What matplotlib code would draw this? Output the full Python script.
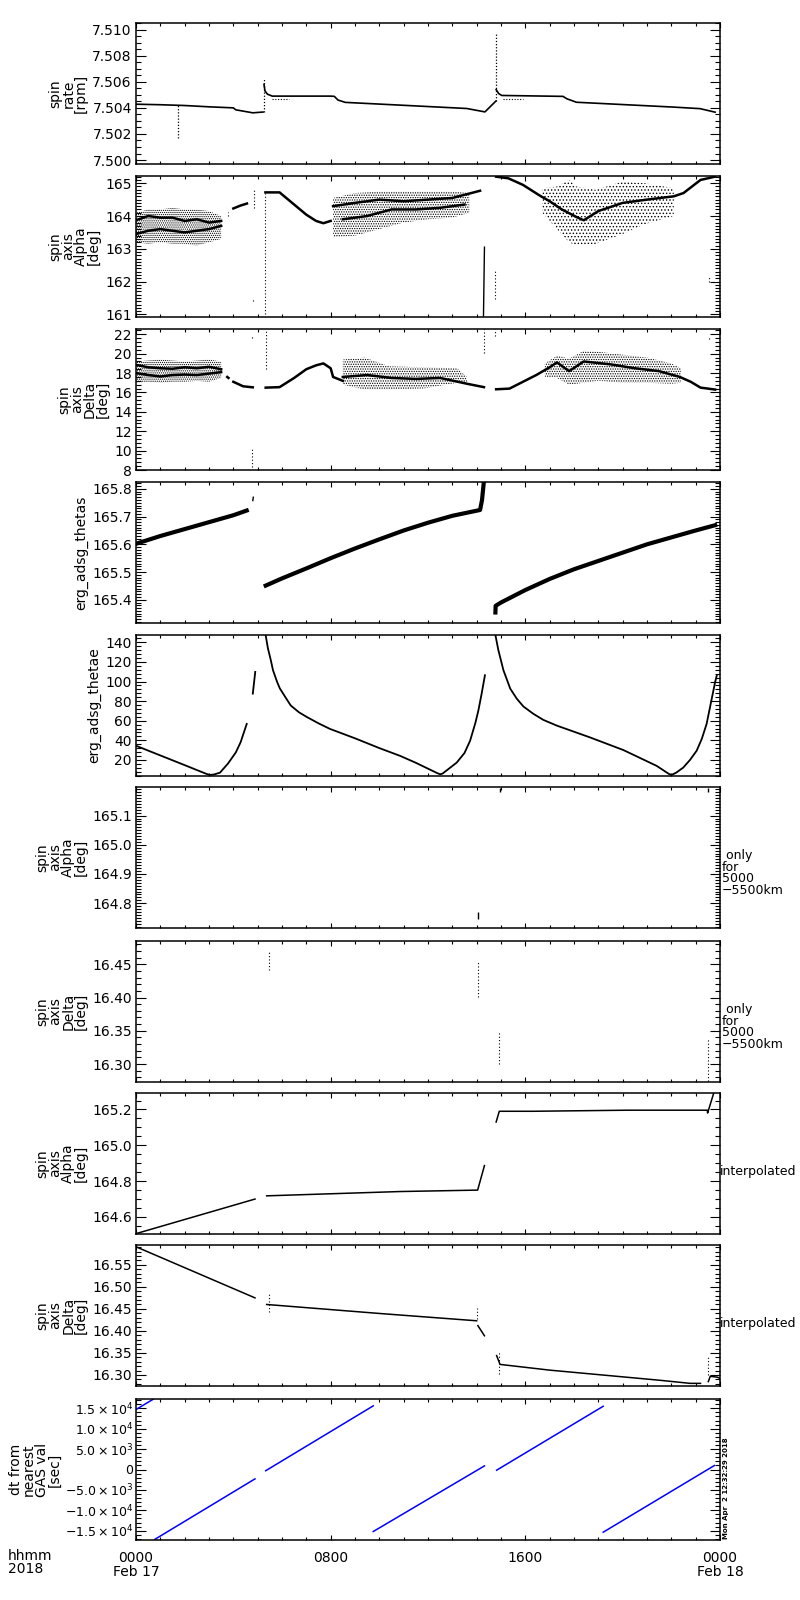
import numpy as np
import matplotlib
matplotlib.use('Agg')
import matplotlib.pyplot as plt
from matplotlib.ticker import MultipleLocator, FixedLocator, FixedFormatter, FormatStrFormatter

nan = np.nan

# ---- panel 1: spin rate [rpm] ----
rate_t = [0, 1, 2, 3, 4, 4.1, 4.8, 5.22, nan, 5.26, 5.3, 5.4, 5.6, 8.0, 8.15, 8.3, 8.6,
          10.85, 13.6, 14.34, 14.79, nan, 14.8, 14.9, 15.03, 17.55, 17.7, 18.1,
          22.08, 23.18, 23.8]
rate_v = [7.50428, 7.50424, 7.50418, 7.50408, 7.50400, 7.50385, 7.50362, 7.50368, nan,
          7.50580, 7.50530, 7.50505, 7.50490, 7.50490, 7.50488, 7.50460, 7.50442,
          7.50421, 7.50395, 7.50369, 7.50452, nan, 7.50540, 7.50510, 7.50495,
          7.50488, 7.50470, 7.50443, 7.50406, 7.50394, 7.50367]
rate_low_t = [5.6, 6.3, nan, 15.1, 15.9]
rate_low_v = [7.50466, 7.50466, nan, 7.50466, 7.50466]
rate_spike_t = [1.71, 5.24, 14.79]
rate_spike_lo = [7.50167, 7.50368, 7.50452]
rate_spike_hi = [7.50420, 7.50621, 7.50975]

# ---- panel 2: spin axis alpha ----
alpha_band1_t = [0, 0.5, 1, 1.5, 2, 2.5, 3, 3.5]
alpha_band1_hi = [164.1, 164.2, 164.2, 164.25, 164.2, 164.2, 164.15, 164.0]
alpha_band1_lo = [163.2, 163.15, 163.2, 163.15, 163.15, 163.1, 163.2, 163.3]
alpha_band2_t = [8.1, 9, 10, 11, 12, 13, 13.7]
alpha_band2_hi = [164.55, 164.7, 164.75, 164.75, 164.75, 164.75, 164.7]
alpha_band2_lo = [163.35, 163.4, 163.6, 163.8, 163.9, 163.95, 164.1]
alpha_band3_t = [16.7, 17.3, 17.8, 18.1, 18.9, 20.0, 20.9, 22.1]
alpha_band3_hi = [164.85, 164.9, 165.1, 164.9, 164.8, 165.05, 165.0, 164.85]
alpha_band3_lo = [164.1, 163.6, 163.2, 163.1, 163.15, 163.45, 163.75, 164.0]
alpha_core_t = [0, 0.5, 1, 1.5, 2, 2.5, 3, 3.5, nan,
                0, 0.5, 1, 1.5, 2, 2.5, 3, 3.5, nan,
                4.0, 4.3, 4.56, nan,
                5.32, 5.9, 6.45, 7.0, 7.4, 7.7, 8.0, nan,
                8.1, 9, 10, 11, 12, 13, 14.14, nan,
                8.5, 9.5, 10.5, 11.5, 12.5, 13.5, nan,
                14.8, 15.3, 15.9, 16.6, 17.0, 17.5, 18.1, 18.4, 19.0, 20.0, 21.0, 22.1,
                22.5, 23.2, 23.8]
alpha_core_v = [163.87, 164.0, 163.95, 163.95, 163.85, 163.9, 163.8, 163.85, nan,
                163.45, 163.55, 163.6, 163.55, 163.5, 163.55, 163.6, 163.7, nan,
                164.23, 164.32, 164.38, nan,
                164.72, 164.72, 164.38, 164.04, 163.85, 163.78, 163.85, nan,
                164.3, 164.4, 164.5, 164.45, 164.5, 164.55, 164.77, nan,
                163.9, 164.0, 164.2, 164.2, 164.25, 164.35, nan,
                165.2, 165.15, 164.95, 164.62, 164.45, 164.2, 163.97, 163.87, 164.15,
                164.4, 164.5, 164.6, 164.7, 165.1, 165.2]
alpha_spike_t = [3.77, 4.85, 5.32, 4.8, 14.77, 23.55]
alpha_spike_lo = [164.0, 164.23, 161.0, 161.4, 161.47, 162.0]
alpha_spike_hi = [164.12, 164.85, 164.7, 161.5, 162.33, 162.15]
alpha_drop_t = [14.28, 14.32]
alpha_drop_v = [160.95, 163.05]

# ---- panel 3: spin axis delta ----
delta_band1_t = [0, 0.5, 1, 1.5, 2, 2.5, 3, 3.5]
delta_band1_hi = [19.2, 19.3, 19.4, 19.3, 19.2, 19.3, 19.4, 19.2]
delta_band1_lo = [17.0, 17.1, 17.0, 17.1, 17.1, 17.2, 17.1, 17.5]
delta_band2_t = [8.5, 9.4, 10.4, 11.8, 13.2, 13.6]
delta_band2_hi = [19.4, 19.6, 18.7, 18.6, 18.5, 17.6]
delta_band2_lo = [16.8, 16.3, 16.3, 16.4, 17.0, 17.0]
delta_band3_t = [16.8, 17.3, 17.8, 18.4, 19.0, 20, 21, 22, 22.4]
delta_band3_hi = [19.0, 19.8, 19.5, 20.3, 20.2, 19.9, 19.6, 19.0, 18.5]
delta_band3_lo = [17.6, 17.5, 16.8, 17.0, 17.2, 17.0, 17.0, 16.9, 17.0]
delta_core_t = [0, 0.5, 1, 1.5, 2, 2.5, 3, 3.5, nan,
                0, 0.5, 1, 1.5, 2, 2.5, 3, 3.5, nan,
                3.75, 3.8, nan,
                4.0, 4.4, 4.8, nan,
                5.33, 5.9, 6.5, 7.0, 7.4, 7.7, 8.0, 8.1, 8.5, nan,
                8.5, 9.5, 10.5, 11.5, 12.5, 13.6, 14.3, nan,
                14.8, 15.35, 15.9, 16.45, 17.0, 17.3, 17.8, 18.4, 19.5, 20.5, 21.5,
                22.35, 22.8, 23.2, 23.8]
delta_core_v = [18.85, 18.6, 18.5, 18.45, 18.6, 18.5, 18.65, 18.4, nan,
                18.0, 17.8, 17.65, 17.8, 17.85, 17.8, 17.95, 18.1, nan,
                17.6, 17.5, nan,
                17.1, 16.64, 16.53, nan,
                16.5, 16.55, 17.5, 18.4, 18.8, 19.0, 18.5, 17.6, 17.2, nan,
                17.6, 17.8, 17.5, 17.4, 17.5, 16.9, 16.55, nan,
                16.33, 16.4, 17.1, 17.8, 18.6, 19.1, 18.2, 19.2, 18.9, 18.5, 18.2,
                17.6, 17.1, 16.5, 16.3]
delta_spike_t = [4.78, 4.78, 5.33, 14.3, 14.77, 23.55]
delta_spike_lo = [21.6, 8.27, 18.47, 20.03, 21.8, 21.5]
delta_spike_hi = [21.9, 10.35, 22.3, 22.5, 22.5, 21.7]

# ---- panel 4: erg_adsg_thetas ----
thetas_t = [0, 1, 2, 3, 4, 4.55, nan,
            5.33, 6, 7, 8, 9, 10, 11, 12, 13, 14.14, 14.22, 14.3, nan,
            14.77, 14.78, 15, 16, 17, 18, 19, 20, 21, 22, 23, 23.8]
thetas_v = [165.602, 165.630, 165.655, 165.680, 165.705, 165.722, nan,
            165.451, 165.477, 165.513, 165.550, 165.585, 165.618, 165.650, 165.678,
            165.703, 165.724, 165.760, 165.830, nan,
            165.354, 165.378, 165.390, 165.435, 165.475, 165.510, 165.540, 165.570,
            165.600, 165.625, 165.650, 165.669]
thetas_dot_t = [4.8, 4.82]
thetas_dot_v = [165.758, 165.770]

# ---- panel 5: erg_adsg_thetae ----
thetae_t = [0, 1, 2, 2.9, 3.04, 3.2, 3.45, 3.78, 4.1, 4.3, 4.55, nan, 4.8, 4.9, nan,
            5.33, 5.42, 5.54, 5.63, 5.8, 5.91, 6.18, 6.36, 6.7, 7.04, 7.5, 7.97, 9, 10,
            10.85, 11.5, 12.4, 12.5, 12.6, 13.18, 13.5, 13.73, 13.95, 14.07, 14.2,
            14.34, nan,
            14.77, 14.89, 15.1, 15.38, 15.65, 15.92, 16.33, 16.74, 17.29, 18.66, 20.03,
            21.4, 21.9, 22.01, 22.2, 22.49, 22.77, 23.04, 23.25, 23.45, 23.59, 23.8,
            23.87]
thetae_v = [34.4, 24.5, 14.6, 5.6, 4.6, 5.0, 6.9, 16.2, 27.5, 38, 56.7, nan, 87.6, 109.8,
            nan,
            147, 134, 121.8, 111.5, 99.5, 93, 82.4, 75.5, 68.5, 63.5, 57.3, 51.6, 42, 32,
            24.1, 17, 6.2, 5.3, 6.0, 17.2, 27, 39.5, 58, 70.4, 87, 106.4, nan,
            147.5, 132.2, 111.5, 92.7, 82.4, 74.5, 67, 60.8, 55, 42.9, 30,
            13.8, 5.6, 4.6, 6.9, 12.1, 20, 29.3, 41.3, 56.7, 73.8, 99.5,
            106.4]

# ---- panel 6/7: only for 5000-5500km ----
alpha_r_t = [14.05, 14.96, 23.5]
alpha_r_lo = [164.745, 165.180, 165.180]
alpha_r_hi = [164.770, 165.195, 165.195]
delta_r_t = [5.48, 14.04, 14.93, 23.52]
delta_r_lo = [16.441, 16.401, 16.300, 16.275]
delta_r_hi = [16.469, 16.453, 16.350, 16.338]

# ---- panel 8/9: interpolated ----
alpha_i_t = [0, 4.89, nan, 5.37, 10.85, 14.04, 14.32, nan,
             14.8, 14.93, 16.3, 20.2, 23.48, 23.49, 23.75]
alpha_i_v = [164.507, 164.700, nan, 164.718, 164.742, 164.750, 164.887, nan,
             165.130, 165.190, 165.190, 165.196, 165.196, 165.180, 165.295]
delta_i_t = [0, 4.89, nan, 5.37, 10.03, 14.0, nan, 14.05, 14.32, nan,
             14.82, 14.96, 17.0, 21.53, 22.77, 23.2, nan, 23.52, 23.6, 23.9, 24]
delta_i_v = [16.591, 16.475, nan, 16.460, 16.4395, 16.423, nan, 16.412, 16.389, nan,
             16.344, 16.324, 16.311, 16.288, 16.281, 16.281, nan,
             16.285, 16.297, 16.295, 16.292]
delta_i_spike_t = [5.48, 14.02, 14.93, 23.52]
delta_i_spike_lo = [16.442, 16.427, 16.303, 16.300]
delta_i_spike_hi = [16.487, 16.453, 16.352, 16.340]

# ---- panel 10: dt from nearest GAS val [sec] ----
dt_t = [0, 0.7, nan, 0.78, 4.89, nan, 5.33, 9.75, nan, 9.75, 14.32, nan,
        14.82, 19.2, nan, 19.2, 23.77]
dt_v = [14700, 17200, nan, -17100, -2300, nan, -300, 15600, nan, -15200, 880, nan,
        -170, 15500, nan, -15370, 980]

tops = [23, 176, 329, 482, 635, 787, 941, 1093, 1245, 1399]
fig = plt.figure(figsize=(8, 16), dpi=100)
plt.rcParams['font.family'] = ['DejaVu Sans']
plt.rcParams['mathtext.fontset'] = 'dejavusans'
plt.rcParams['hatch.linewidth'] = 0.6

axes = []
for top in tops:
    ax = fig.add_axes([136 / 800, 1 - (top + 141) / 1600, 584 / 800, 141 / 1600])
    ax.set_xlim(0, 24)
    ax.xaxis.set_major_locator(MultipleLocator(8))
    ax.xaxis.set_minor_locator(MultipleLocator(1))
    ax.tick_params(which='both', direction='in', top=True, right=True,
                   labelsize=10, width=0.8, pad=3)
    ax.tick_params(axis='y', which='major', length=7)
    ax.tick_params(axis='y', which='minor', length=3.5)
    ax.tick_params(axis='x', which='major', length=3.8)
    ax.tick_params(axis='x', which='minor', length=2)
    ax.set_xticklabels([])
    for s in ax.spines.values():
        s.set_linewidth(1.1)
    axes.append(ax)


def yaxis(ax, lim, major, minor, fmt, label):
    ax.set_ylim(*lim)
    ax.yaxis.set_major_locator(MultipleLocator(major))
    ax.yaxis.set_minor_locator(MultipleLocator(minor))
    ax.yaxis.set_major_formatter(FormatStrFormatter(fmt))
    ax.set_ylabel(label, fontsize=10, linespacing=0.9, labelpad=3)


def band(ax, t, lo, hi, hatch):
    ax.fill_between(t, lo, hi, facecolor='none', edgecolor='k', hatch=hatch, linewidth=0)


# panel 1
ax = axes[0]
yaxis(ax, (7.4997, 7.5105), 0.002, 0.0005, '%.3f', 'spin\nrate\n[rpm]')
ax.plot(rate_t, rate_v, color='k', lw=1.2)
ax.plot(rate_low_t, rate_low_v, color='k', lw=0.8, ls=(0, (1, 1.5)))
ax.vlines(rate_spike_t, rate_spike_lo, rate_spike_hi, color='k', lw=0.9, ls=(0, (1, 1.5)))

# panel 2
ax = axes[1]
yaxis(ax, (160.92, 165.22), 1, 0.1, '%d', 'spin\naxis\nAlpha\n[deg]')
band(ax, alpha_band1_t, alpha_band1_lo, alpha_band1_hi, '........')
band(ax, alpha_band2_t, alpha_band2_lo, alpha_band2_hi, '.......')
band(ax, alpha_band3_t, alpha_band3_lo, alpha_band3_hi, '.....')
ax.plot(alpha_core_t, alpha_core_v, color='k', lw=1.8)
ax.vlines(alpha_spike_t, alpha_spike_lo, alpha_spike_hi, color='k', lw=0.8, ls=(0, (1, 2)))
ax.plot(alpha_drop_t, alpha_drop_v, color='k', lw=1)

# panel 3
ax = axes[2]
yaxis(ax, (8.0, 22.55), 2, 0.4, '%d', 'spin\naxis\nDelta\n[deg]')
band(ax, delta_band1_t, delta_band1_lo, delta_band1_hi, '........')
band(ax, delta_band2_t, delta_band2_lo, delta_band2_hi, '.......')
band(ax, delta_band3_t, delta_band3_lo, delta_band3_hi, '.......')
ax.plot(delta_core_t, delta_core_v, color='k', lw=1.8)
ax.vlines(delta_spike_t, delta_spike_lo, delta_spike_hi, color='k', lw=0.8, ls=(0, (1, 2)))

# panel 4
ax = axes[3]
yaxis(ax, (165.316, 165.825), 0.1, 0.01, '%.1f', 'erg_adsg_thetas')
ax.plot(thetas_t, thetas_v, color='k', lw=3)
ax.plot(thetas_dot_t, thetas_dot_v, color='k', lw=1)

# panel 5
ax = axes[4]
yaxis(ax, (3.5, 147.5), 20, 4, '%d', 'erg_adsg_thetae')
ax.plot(thetae_t, thetae_v, color='k', lw=1.3)

# panel 6
ax = axes[5]
yaxis(ax, (164.715, 165.198), 0.1, 0.01, '%.1f', 'spin\naxis\nAlpha\n[deg]')
ax.vlines(alpha_r_t, alpha_r_lo, alpha_r_hi, color='k', lw=1)

# panel 7
ax = axes[6]
yaxis(ax, (16.273, 16.485), 0.05, 0.01, '%.2f', 'spin\naxis\nDelta\n[deg]')
ax.vlines(delta_r_t, delta_r_lo, delta_r_hi, color='k', lw=0.8, ls=(0, (1, 2)))

# panel 8
ax = axes[7]
yaxis(ax, (164.505, 165.292), 0.2, 0.05, '%.1f', 'spin\naxis\nAlpha\n[deg]')
ax.plot(alpha_i_t, alpha_i_v, color='k', lw=1.1)

# panel 9
ax = axes[8]
yaxis(ax, (16.275, 16.595), 0.05, 0.01, '%.2f', 'spin\naxis\nDelta\n[deg]')
ax.plot(delta_i_t, delta_i_v, color='k', lw=1.1)
ax.vlines(delta_i_spike_t, delta_i_spike_lo, delta_i_spike_hi, color='k', lw=0.8,
          ls=(0, (1, 2)))

# panel 10
ax = axes[9]
ax.set_ylim(-17280, 17280)
dt_ticks = [-15000, -10000, -5000, 0, 5000, 10000, 15000]
dt_labels = [r'$-1.5\times10^{4}$', r'$-1.0\times10^{4}$', r'$-5.0\times10^{3}$', '0',
             r'$5.0\times10^{3}$', r'$1.0\times10^{4}$', r'$1.5\times10^{4}$']
ax.yaxis.set_major_locator(FixedLocator(dt_ticks))
ax.yaxis.set_major_formatter(FixedFormatter(dt_labels))
ax.yaxis.set_minor_locator(MultipleLocator(1000))
ax.tick_params(axis='y', labelsize=9, pad=2)
ax.set_ylabel('dt from\nnearest\nGAS val\n[sec]', fontsize=10, linespacing=0.9, labelpad=2)
ax.plot(dt_t, dt_v, color='#0000ff', lw=1.1)
ax.set_xticks([0, 8, 16, 24])
ax.set_xticklabels(['0000\nFeb 17', '0800', '1600', '0000\nFeb 18'],
                   fontsize=10, linespacing=0.95, va='top')
ax.tick_params(axis='x', pad=8)

# right side annotations
for i in (5, 6):
    fig.text(722 / 800, 1 - (tops[i] + 86) / 1600, ' only\nfor\n5000\n\u22125500km',
             fontsize=9, va='center', ha='left', linespacing=0.85)
for i in (7, 8):
    fig.text(720 / 800, 1 - (tops[i] + 79) / 1600, 'interpolated',
             fontsize=9, va='center', ha='left')
fig.text(723 / 800, 1 - 1539 / 1600, 'Mon Apr  2 12:32:29 2018', fontsize=5,
         fontweight='bold', rotation=90, va='bottom', ha='left')
fig.text(8 / 800, 1 - 1549 / 1600, 'hhmm\n2018', fontsize=10, va='top', ha='left',
         linespacing=0.95)

plt.savefig('out.png', dpi=100)
